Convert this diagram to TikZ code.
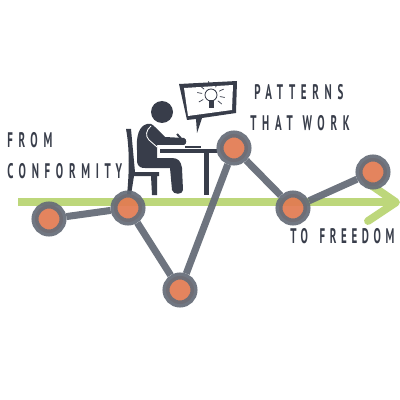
\documentclass[tikz,border=0pt]{standalone}
\usepackage{fontspec}
\usetikzlibrary{arrows.meta,calc}
\newfontfamily\handfont[LetterSpace=27,FakeStretch=.52]{PT Sans Bold}
\newfontfamily\handfontb[LetterSpace=22,FakeStretch=.52]{PT Sans Bold}
\definecolor{ink}{HTML}{383D4A}
\definecolor{slate}{HTML}{666D78}
\definecolor{coral}{HTML}{E27B52}
\definecolor{leaf}{HTML}{BDD77B}
\tikzset{point/.style={circle,draw=slate,fill=coral,line width=5pt,minimum size=.7cm,inner sep=0pt,opacity=.93},
link/.style={slate,line width=5pt,opacity=.95},
arrowline/.style={leaf,line width=5.6pt},
sil/.style={fill=ink,draw=none},
ray/.style={ink,line width=.5pt},
lab/.style={font=\handfont\fontsize{15}{17}\selectfont,text=ink,anchor=base west,inner sep=0pt}}
\begin{document}
\begin{tikzpicture}[x=.025cm,y=-.025cm]
\useasboundingbox (0,0) rectangle (400,400);
% speech bubble
\fill[ink] (179,84)--(237,81)--(236,113)--(202,118)--(197,133)--(196,119)--(187,120)--cycle;
\fill[white] (184,88)--(233,85)--(232,110)--(188,116)--cycle;
\draw[ink,line width=.6pt] (211,95) circle (6);
\fill[ink] (208.5,100) rectangle (213.5,108);
\foreach \a in {-170,-140,-100,-60,-25,10,40,150}
  \draw[ray] ($(211,95)+(\a:9)$)--($(211,95)+(\a:14)$);
% person
\fill[ink] (162,112) circle (11);
\fill[sil] (147,124) .. controls (139,126) and (136,136) .. (137,150)
  -- (137,162) .. controls (138,167) and (141,168) .. (145,168) -- (170,168)
  -- (172,190) .. controls (173,195) and (183,195) .. (183,190) -- (182,168)
  .. controls (181,161) and (178,158) .. (172,158) -- (157,158) -- (157,145) -- (184,145)
  .. controls (187,144) and (187,139) .. (184,138) -- (165,137) -- (155,127) .. controls (152,124) and (150,123) .. (147,124) -- cycle;
\draw[white,line width=.6pt] (151,126) .. controls (146,130) and (145,136) .. (149,140) -- (157,147);
\draw[ink,line width=1.4pt] (177,134)--(185,143);
\draw[ink,line width=1pt] (185,147)--(201,147);
% chair
\fill[sil] (126,129)--(131,129)--(135,172)--(159,172)--(159,176)--(157,176)--(157,195)--(152,195)--(151,176)--(134,176)--(131,195)--(127,195) .. controls (129,175) and (130,150) .. (126,129) -- cycle;
% table
\fill[sil] (160,149) rectangle (217,153);
\fill[sil] (204,153) rectangle (209,195);
% green arrow
\draw[arrowline] (18,202.3)--(395,202.3);
\draw[arrowline,line cap=round,line join=round] (368,183)--(396,202.3)--(368,221);
% data points
\node[point] (pa) at (49,219) {};
\node[point] (pb) at (128,208) {};
\node[point] (pc) at (180,290) {};
\node[point] (pd) at (234,148) {};
\node[point] (pe) at (293,208) {};
\node[point] (pf) at (373,172) {};
\draw[link] (pa)--(pb);
\draw[link] (pb)--(pc);
\draw[link] (pc)--(pd);
\draw[link] (pd)--(pe);
\draw[link] (pe)--(pf);
% labels
\node[lab] (from) at (7,148) {FROM};
\node[lab] (conf) at (7,178) {CONFORMITY};
\node[lab] (patt) at (254,100) {PATTERNS};
\node[lab] (work) at (250,131) {THAT\hspace{1pt} WORK};
\node[lab] (free) at (290,243) {\handfontb TO\hspace{3pt} FREEDOM};
\end{tikzpicture}
\end{document}
